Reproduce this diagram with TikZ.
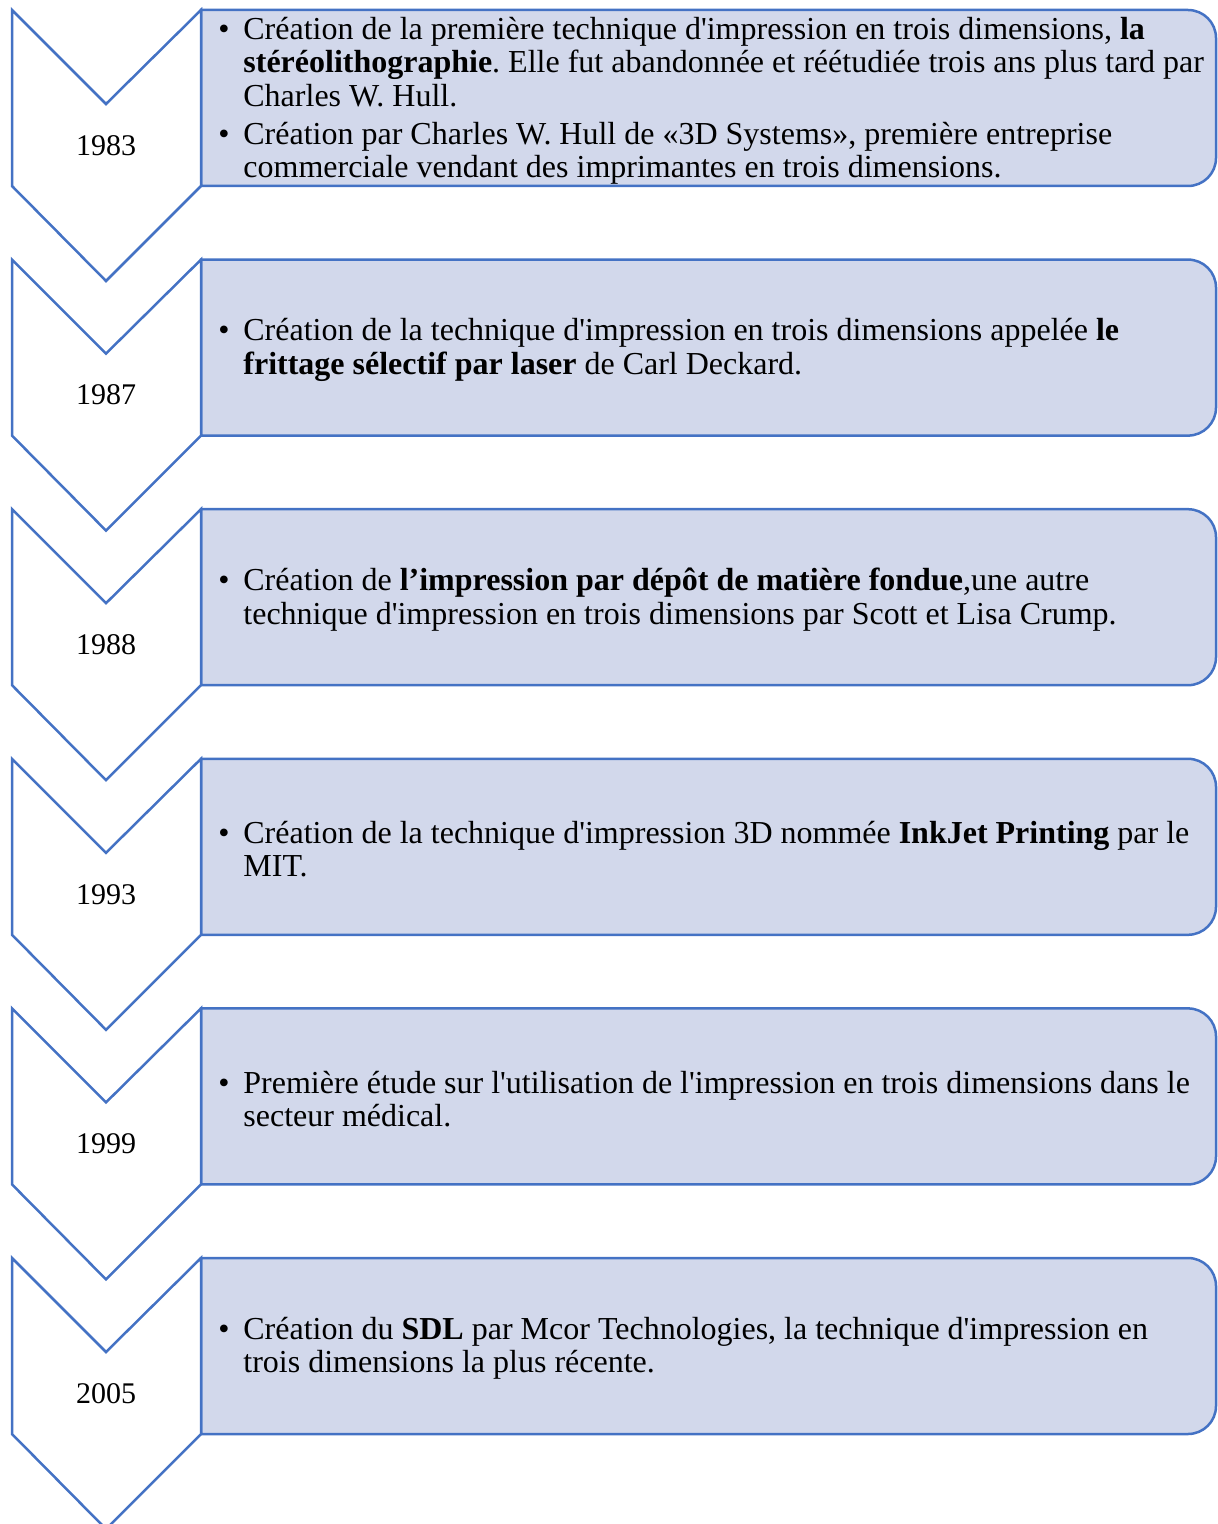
\documentclass[tikz,border=0pt]{standalone}
\usepackage{fontspec}
\setmainfont{Liberation Serif}
\usetikzlibrary{positioning}
\definecolor{lineblue}{HTML}{4472C4}
\definecolor{boxfill}{HTML}{D2D8EB}
\frenchspacing
\newcommand{\apo}{\textquotesingle}
\newcommand{\puce}{\hangindent=12.5pt\hangafter=1\noindent\makebox[12.5pt][l]{\textbullet}}

\begin{document}
\begin{tikzpicture}[x=0.5pt,y=0.5pt,
  chev/.style={draw=lineblue,line width=1.25pt,fill=white,line join=miter},
  bar/.style={draw=lineblue,line width=1.25pt,fill=boxfill},
  year/.style={font=\fontsize{15}{18}\selectfont,inner sep=0},
  desc/.style={anchor=west,inner sep=0,text width=493.5pt,align=flush left,font=\fontsize{16}{16.75}\selectfont}]
\useasboundingbox (0,0) rectangle (1217,-1524);

% 1983
\draw[bar] (201,-10) -- (1188,-10) arc[start angle=90,end angle=0,radius=14pt] -- (1216,-158) arc[start angle=0,end angle=-90,radius=14pt] -- (201,-186) -- cycle;
\draw[chev] (12,-10) -- (106,-104) -- (201,-10) -- (201,-186) -- (106,-281) -- (12,-186) -- cycle;
\node[year] (y1) at (106,-145.5) {1983};
\node[desc] (d1) at (218,-101) {\puce Création de la première technique d\apo impression en trois dimensions, \textbf{la stéréolithographie}. Elle fut abandonnée et réétudiée trois ans plus tard par Charles W. Hull.\par\vspace{2.25pt}
\puce Création par Charles W. Hull de «3D Systems», première entreprise commerciale vendant des imprimantes en trois dimensions.\par};

% 1987
\draw[bar] (201,-259.6) -- (1188,-259.6) arc[start angle=90,end angle=0,radius=14pt] -- (1216,-407.6) arc[start angle=0,end angle=-90,radius=14pt] -- (201,-435.6) -- cycle;
\draw[chev] (12,-259.6) -- (106,-353.6) -- (201,-259.6) -- (201,-435.6) -- (106,-530.6) -- (12,-435.6) -- cycle;
\node[year] (y2) at (106,-395.1) {1987};
\node[desc] (d2) at (218,-350.1) {\puce Création de la technique d\apo impression en trois dimensions appelée \textbf{le frittage sélectif par laser} de Carl Deckard.\par};

% 1988
\draw[bar] (201,-509.2) -- (1188,-509.2) arc[start angle=90,end angle=0,radius=14pt] -- (1216,-657.2) arc[start angle=0,end angle=-90,radius=14pt] -- (201,-685.2) -- cycle;
\draw[chev] (12,-509.2) -- (106,-603.2) -- (201,-509.2) -- (201,-685.2) -- (106,-780.2) -- (12,-685.2) -- cycle;
\node[year] (y3) at (106,-644.7) {1988};
\node[desc] (d3) at (218,-599.7) {\puce Création de \textbf{l’impression par dépôt de matière fondue},une autre technique d\apo impression en trois dimensions par Scott et Lisa Crump.\par};

% 1993
\draw[bar] (201,-758.8) -- (1188,-758.8) arc[start angle=90,end angle=0,radius=14pt] -- (1216,-906.8) arc[start angle=0,end angle=-90,radius=14pt] -- (201,-934.8) -- cycle;
\draw[chev] (12,-758.8) -- (106,-852.8) -- (201,-758.8) -- (201,-934.8) -- (106,-1029.8) -- (12,-934.8) -- cycle;
\node[year] (y4) at (106,-894.3) {1993};
\node[desc] (d4) at (218,-849.3) {\puce Création de la technique d\apo impression 3D nommée \textbf{InkJet Printing} par le MIT.\par};

% 1999
\draw[bar] (201,-1008.4) -- (1188,-1008.4) arc[start angle=90,end angle=0,radius=14pt] -- (1216,-1156.4) arc[start angle=0,end angle=-90,radius=14pt] -- (201,-1184.4) -- cycle;
\draw[chev] (12,-1008.4) -- (106,-1102.4) -- (201,-1008.4) -- (201,-1184.4) -- (106,-1279.4) -- (12,-1184.4) -- cycle;
\node[year] (y5) at (106,-1143.9) {1999};
\node[desc] (d5) at (218,-1098.9) {\puce Première étude sur l\apo utilisation de l\apo impression en trois dimensions dans le secteur médical.\par};

% 2005
\draw[bar] (201,-1258) -- (1188,-1258) arc[start angle=90,end angle=0,radius=14pt] -- (1216,-1406) arc[start angle=0,end angle=-90,radius=14pt] -- (201,-1434) -- cycle;
\draw[chev] (12,-1258) -- (106,-1352) -- (201,-1258) -- (201,-1434) -- (106,-1529) -- (12,-1434) -- cycle;
\node[year] (y6) at (106,-1393.5) {2005};
\node[desc] (d6) at (218,-1348.5) {\puce Création du \textbf{SDL} par Mcor Technologies, la technique d\apo impression en trois dimensions la plus récente.\par};

\end{tikzpicture}
\end{document}
